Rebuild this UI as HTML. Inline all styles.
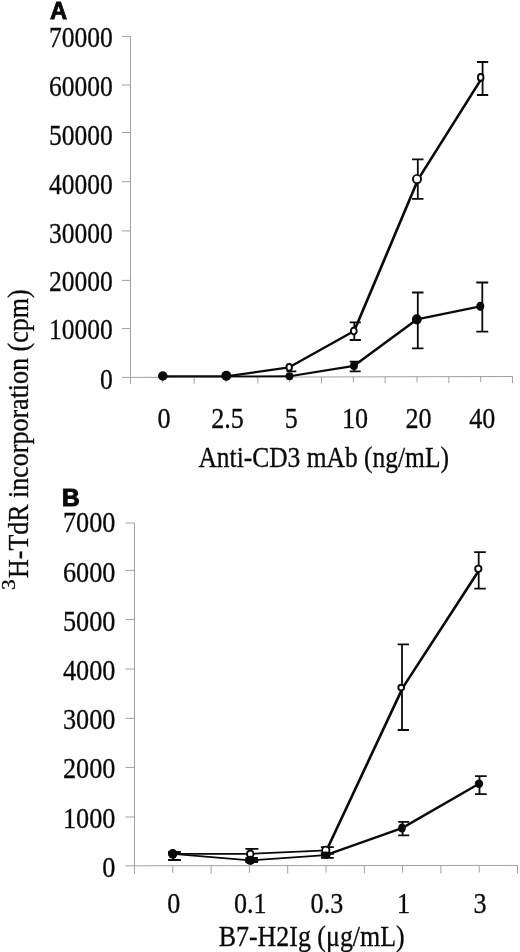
<!DOCTYPE html><html><head><meta charset="utf-8"><title>Figure</title><style>html,body{margin:0;padding:0;background:#fff}svg{display:block;will-change:transform}text{font-family:"Liberation Serif",serif;fill:#0a0a0a;stroke:#0a0a0a;stroke-width:0.3px}.b{font-family:"Liberation Sans",sans-serif;font-weight:bold}</style></head><body>
<svg width="520" height="952" viewBox="0 0 520 952">
<rect width="520" height="952" fill="#fff"/>
<g stroke="#a0a0a0" stroke-width="1" fill="none">
<line x1="130.50" y1="36.40" x2="130.50" y2="383.90"/>
<line x1="122.00" y1="377.40" x2="512.50" y2="376.50"/>
<line x1="122.00" y1="36.40" x2="130.50" y2="36.40"/>
<line x1="122.00" y1="85.00" x2="130.50" y2="85.00"/>
<line x1="122.00" y1="132.50" x2="130.50" y2="132.50"/>
<line x1="122.00" y1="181.70" x2="130.50" y2="181.70"/>
<line x1="122.00" y1="230.90" x2="130.50" y2="230.90"/>
<line x1="122.00" y1="280.40" x2="130.50" y2="280.40"/>
<line x1="122.00" y1="328.50" x2="130.50" y2="328.50"/>
<line x1="162.33" y1="377.32" x2="162.33" y2="382.82"/>
<line x1="194.17" y1="377.25" x2="194.17" y2="383.75"/>
<line x1="226.00" y1="377.17" x2="226.00" y2="382.67"/>
<line x1="257.83" y1="377.10" x2="257.83" y2="383.60"/>
<line x1="289.67" y1="377.02" x2="289.67" y2="382.52"/>
<line x1="321.50" y1="376.95" x2="321.50" y2="383.45"/>
<line x1="353.33" y1="376.88" x2="353.33" y2="382.38"/>
<line x1="385.17" y1="376.80" x2="385.17" y2="383.30"/>
<line x1="417.00" y1="376.73" x2="417.00" y2="382.23"/>
<line x1="448.83" y1="376.65" x2="448.83" y2="383.15"/>
<line x1="480.67" y1="376.57" x2="480.67" y2="382.07"/>
<line x1="512.50" y1="376.50" x2="512.50" y2="383.00"/>
</g>
<text transform="translate(112.80,47.20) scale(0.866,1)" font-size="29.5" text-anchor="end">70000</text>
<text transform="translate(112.80,96.40) scale(0.866,1)" font-size="29.5" text-anchor="end">60000</text>
<text transform="translate(112.80,145.40) scale(0.866,1)" font-size="29.5" text-anchor="end">50000</text>
<text transform="translate(112.80,193.60) scale(0.866,1)" font-size="29.5" text-anchor="end">40000</text>
<text transform="translate(112.80,242.60) scale(0.866,1)" font-size="29.5" text-anchor="end">30000</text>
<text transform="translate(112.80,291.40) scale(0.866,1)" font-size="29.5" text-anchor="end">20000</text>
<text transform="translate(112.80,339.40) scale(0.866,1)" font-size="29.5" text-anchor="end">10000</text>
<text transform="translate(112.80,388.60) scale(0.866,1)" font-size="29.5" text-anchor="end">0</text>
<text transform="translate(163.93,428.00) scale(0.885,1)" font-size="29.5" text-anchor="middle">0</text>
<text transform="translate(227.60,428.00) scale(0.885,1)" font-size="29.5" text-anchor="middle">2.5</text>
<text transform="translate(291.27,428.00) scale(0.885,1)" font-size="29.5" text-anchor="middle">5</text>
<text transform="translate(354.93,428.00) scale(0.885,1)" font-size="29.5" text-anchor="middle">10</text>
<text transform="translate(418.60,428.00) scale(0.885,1)" font-size="29.5" text-anchor="middle">20</text>
<text transform="translate(482.27,428.00) scale(0.885,1)" font-size="29.5" text-anchor="middle">40</text>
<line x1="162.80" y1="376.40" x2="226.30" y2="376.40" stroke="#0a0a0a" stroke-width="1.80" stroke-linecap="round"/>
<line x1="226.30" y1="376.40" x2="289.20" y2="367.30" stroke="#0a0a0a" stroke-width="2.19" stroke-linecap="round"/>
<line x1="289.20" y1="367.30" x2="354.20" y2="331.00" stroke="#0a0a0a" stroke-width="2.39" stroke-linecap="round"/>
<line x1="354.20" y1="331.00" x2="418.30" y2="179.10" stroke="#0a0a0a" stroke-width="2.65" stroke-linecap="round"/>
<line x1="418.30" y1="179.10" x2="482.30" y2="77.40" stroke="#0a0a0a" stroke-width="2.61" stroke-linecap="round"/>
<path d="M289.80 367.00 V371.40" stroke="#0a0a0a" stroke-width="1.80" fill="none"/>
<path d="M286.50 371.40 H296.30" stroke="#0a0a0a" stroke-width="1.80" fill="none"/>
<path d="M354.30 322.30 V340.00" stroke="#0a0a0a" stroke-width="1.80" fill="none"/>
<path d="M349.70 322.30 H360.90 M349.70 340.00 H360.90" stroke="#0a0a0a" stroke-width="1.80" fill="none"/>
<path d="M417.80 159.30 V198.80" stroke="#0a0a0a" stroke-width="1.80" fill="none"/>
<path d="M412.00 159.30 H423.50 M412.00 198.80 H423.50" stroke="#0a0a0a" stroke-width="1.80" fill="none"/>
<path d="M482.60 62.00 V95.00" stroke="#0a0a0a" stroke-width="1.80" fill="none"/>
<path d="M476.90 62.00 H488.20 M476.90 95.00 H488.20" stroke="#0a0a0a" stroke-width="1.80" fill="none"/>
<ellipse cx="162.80" cy="376.50" rx="3.05" ry="3.05" fill="#fff" stroke="#0a0a0a" stroke-width="1.9"/>
<ellipse cx="226.30" cy="376.50" rx="3.05" ry="3.05" fill="#fff" stroke="#0a0a0a" stroke-width="1.9"/>
<ellipse cx="289.20" cy="367.30" rx="2.75" ry="3.45" fill="#fff" stroke="#0a0a0a" stroke-width="1.9"/>
<ellipse cx="353.80" cy="331.00" rx="2.95" ry="3.45" fill="#fff" stroke="#0a0a0a" stroke-width="1.9"/>
<ellipse cx="417.00" cy="179.10" rx="4.05" ry="4.20" fill="#fff" stroke="#0a0a0a" stroke-width="1.9"/>
<ellipse cx="480.70" cy="77.40" rx="2.80" ry="3.35" fill="#fff" stroke="#0a0a0a" stroke-width="1.9"/>
<line x1="162.80" y1="376.40" x2="226.30" y2="376.40" stroke="#0a0a0a" stroke-width="1.80" stroke-linecap="round"/>
<line x1="226.30" y1="376.40" x2="289.50" y2="376.25" stroke="#0a0a0a" stroke-width="1.80" stroke-linecap="round"/>
<line x1="289.50" y1="376.25" x2="354.00" y2="365.80" stroke="#0a0a0a" stroke-width="2.20" stroke-linecap="round"/>
<line x1="354.00" y1="365.80" x2="416.80" y2="319.40" stroke="#0a0a0a" stroke-width="2.46" stroke-linecap="round"/>
<line x1="416.80" y1="319.40" x2="480.30" y2="306.30" stroke="#0a0a0a" stroke-width="2.22" stroke-linecap="round"/>
<path d="M354.30 361.60 V371.30" stroke="#0a0a0a" stroke-width="1.80" fill="none"/>
<path d="M349.70 361.60 H360.70 M349.70 371.30 H360.70" stroke="#0a0a0a" stroke-width="1.80" fill="none"/>
<path d="M417.80 292.50 V348.30" stroke="#0a0a0a" stroke-width="1.80" fill="none"/>
<path d="M412.00 292.50 H423.50 M412.00 348.30 H423.50" stroke="#0a0a0a" stroke-width="1.80" fill="none"/>
<path d="M482.30 282.50 V331.70" stroke="#0a0a0a" stroke-width="1.80" fill="none"/>
<path d="M476.30 282.50 H488.20 M476.30 331.70 H488.20" stroke="#0a0a0a" stroke-width="1.80" fill="none"/>
<ellipse cx="162.80" cy="375.90" rx="4.80" ry="4.55" fill="#0a0a0a"/>
<ellipse cx="226.30" cy="375.70" rx="5.00" ry="5.00" fill="#0a0a0a"/>
<ellipse cx="289.50" cy="376.25" rx="3.90" ry="3.90" fill="#0a0a0a"/>
<ellipse cx="354.00" cy="365.80" rx="3.90" ry="4.20" fill="#0a0a0a"/>
<ellipse cx="416.80" cy="319.40" rx="4.90" ry="5.05" fill="#0a0a0a"/>
<ellipse cx="480.30" cy="306.30" rx="4.00" ry="4.60" fill="#0a0a0a"/>
<text transform="translate(198.40,466.80) scale(1.000,1)" font-size="29.0" text-anchor="start" textLength="250.6" lengthAdjust="spacingAndGlyphs">Anti-CD3 mAb (ng/mL)</text>
<text class="b" transform="translate(49.9,19.3) scale(1.0,1)" font-size="23.8" style="stroke-width:0.8px">A</text>
<g stroke="#a0a0a0" stroke-width="1" fill="none">
<line x1="134.50" y1="523.00" x2="134.50" y2="873.80"/>
<line x1="125.50" y1="865.80" x2="517.50" y2="865.40"/>
<line x1="125.50" y1="523.00" x2="134.50" y2="523.00"/>
<line x1="125.50" y1="570.40" x2="134.50" y2="570.40"/>
<line x1="125.50" y1="619.40" x2="134.50" y2="619.40"/>
<line x1="125.50" y1="669.00" x2="134.50" y2="669.00"/>
<line x1="125.50" y1="718.30" x2="134.50" y2="718.30"/>
<line x1="125.50" y1="767.40" x2="134.50" y2="767.40"/>
<line x1="125.50" y1="817.00" x2="134.50" y2="817.00"/>
<line x1="172.80" y1="865.76" x2="172.80" y2="872.76"/>
<line x1="211.10" y1="865.72" x2="211.10" y2="873.72"/>
<line x1="249.40" y1="865.68" x2="249.40" y2="872.68"/>
<line x1="287.70" y1="865.64" x2="287.70" y2="873.64"/>
<line x1="326.00" y1="865.60" x2="326.00" y2="872.60"/>
<line x1="364.30" y1="865.56" x2="364.30" y2="873.56"/>
<line x1="402.60" y1="865.52" x2="402.60" y2="872.52"/>
<line x1="440.90" y1="865.48" x2="440.90" y2="873.48"/>
<line x1="479.20" y1="865.44" x2="479.20" y2="872.44"/>
<line x1="517.50" y1="865.40" x2="517.50" y2="873.40"/>
</g>
<text transform="translate(115.40,532.20) scale(0.890,1)" font-size="29.5" text-anchor="end">7000</text>
<text transform="translate(115.40,581.60) scale(0.890,1)" font-size="29.5" text-anchor="end">6000</text>
<text transform="translate(115.40,630.90) scale(0.890,1)" font-size="29.5" text-anchor="end">5000</text>
<text transform="translate(115.40,680.20) scale(0.890,1)" font-size="29.5" text-anchor="end">4000</text>
<text transform="translate(115.40,728.80) scale(0.890,1)" font-size="29.5" text-anchor="end">3000</text>
<text transform="translate(115.40,778.00) scale(0.890,1)" font-size="29.5" text-anchor="end">2000</text>
<text transform="translate(115.40,827.50) scale(0.890,1)" font-size="29.5" text-anchor="end">1000</text>
<text transform="translate(115.40,876.60) scale(0.890,1)" font-size="29.5" text-anchor="end">0</text>
<text transform="translate(173.70,913.00) scale(0.885,1)" font-size="29.5" text-anchor="middle">0</text>
<text transform="translate(250.30,913.00) scale(0.885,1)" font-size="29.5" text-anchor="middle">0.1</text>
<text transform="translate(326.90,913.00) scale(0.885,1)" font-size="29.5" text-anchor="middle">0.3</text>
<text transform="translate(403.50,913.00) scale(0.885,1)" font-size="29.5" text-anchor="middle">1</text>
<text transform="translate(480.10,913.00) scale(0.885,1)" font-size="29.5" text-anchor="middle">3</text>
<line x1="172.70" y1="853.80" x2="250.20" y2="853.90" stroke="#0a0a0a" stroke-width="1.80" stroke-linecap="round"/>
<line x1="250.20" y1="853.90" x2="326.60" y2="850.30" stroke="#0a0a0a" stroke-width="1.80" stroke-linecap="round"/>
<line x1="326.60" y1="850.30" x2="402.80" y2="687.60" stroke="#0a0a0a" stroke-width="2.64" stroke-linecap="round"/>
<line x1="402.80" y1="687.60" x2="480.00" y2="568.80" stroke="#0a0a0a" stroke-width="2.60" stroke-linecap="round"/>
<path d="M173.30 852.00 V860.00" stroke="#0a0a0a" stroke-width="1.80" fill="none"/>
<path d="M168.30 852.00 H180.60 M168.30 860.00 H180.60" stroke="#0a0a0a" stroke-width="1.80" fill="none"/>
<path d="M251.60 848.90 V860.80" stroke="#0a0a0a" stroke-width="1.80" fill="none"/>
<path d="M245.40 848.90 H258.40 M245.40 860.80 H258.40" stroke="#0a0a0a" stroke-width="1.80" fill="none"/>
<path d="M326.50 847.10 V853.50" stroke="#0a0a0a" stroke-width="1.80" fill="none"/>
<path d="M320.90 847.10 H333.80 M320.90 853.50 H333.80" stroke="#0a0a0a" stroke-width="1.80" fill="none"/>
<path d="M402.00 644.40 V730.00" stroke="#0a0a0a" stroke-width="1.80" fill="none"/>
<path d="M397.70 644.40 H409.00 M397.70 730.00 H409.00" stroke="#0a0a0a" stroke-width="1.80" fill="none"/>
<path d="M478.70 552.20 V588.70" stroke="#0a0a0a" stroke-width="1.80" fill="none"/>
<path d="M474.20 552.20 H485.80 M474.20 588.70 H485.80" stroke="#0a0a0a" stroke-width="1.80" fill="none"/>
<ellipse cx="172.70" cy="853.80" rx="3.45" ry="3.45" fill="#fff" stroke="#0a0a0a" stroke-width="1.9"/>
<ellipse cx="250.20" cy="853.90" rx="3.35" ry="3.45" fill="#fff" stroke="#0a0a0a" stroke-width="1.9"/>
<ellipse cx="325.80" cy="850.30" rx="3.65" ry="3.65" fill="#fff" stroke="#0a0a0a" stroke-width="1.9"/>
<ellipse cx="401.20" cy="687.60" rx="2.90" ry="2.85" fill="#fff" stroke="#0a0a0a" stroke-width="1.9"/>
<ellipse cx="478.30" cy="568.80" rx="3.15" ry="3.15" fill="#fff" stroke="#0a0a0a" stroke-width="1.9"/>
<line x1="172.70" y1="853.80" x2="250.30" y2="860.30" stroke="#0a0a0a" stroke-width="1.80" stroke-linecap="round"/>
<line x1="250.30" y1="860.30" x2="325.80" y2="855.20" stroke="#0a0a0a" stroke-width="1.80" stroke-linecap="round"/>
<line x1="325.80" y1="855.20" x2="402.00" y2="828.10" stroke="#0a0a0a" stroke-width="2.30" stroke-linecap="round"/>
<line x1="402.00" y1="828.10" x2="479.00" y2="783.80" stroke="#0a0a0a" stroke-width="2.40" stroke-linecap="round"/>
<path d="M173.30 852.00 V860.00" stroke="#0a0a0a" stroke-width="1.80" fill="none"/>
<path d="M168.30 852.00 H180.60 M168.30 860.00 H180.60" stroke="#0a0a0a" stroke-width="1.80" fill="none"/>
<path d="M251.60 858.00 V862.00" stroke="#0a0a0a" stroke-width="1.80" fill="none"/>
<path d="M245.40 858.00 H257.90 M245.40 862.00 H257.90" stroke="#0a0a0a" stroke-width="1.80" fill="none"/>
<path d="M326.50 853.50 V857.90" stroke="#0a0a0a" stroke-width="1.80" fill="none"/>
<path d="M320.90 853.50 H333.80 M320.90 857.90 H333.80" stroke="#0a0a0a" stroke-width="1.80" fill="none"/>
<path d="M402.60 821.90 V835.40" stroke="#0a0a0a" stroke-width="1.80" fill="none"/>
<path d="M398.20 821.90 H409.20 M398.20 835.40 H409.20" stroke="#0a0a0a" stroke-width="1.80" fill="none"/>
<path d="M479.50 776.20 V794.10" stroke="#0a0a0a" stroke-width="1.80" fill="none"/>
<path d="M475.00 776.20 H486.70 M475.00 794.10 H486.70" stroke="#0a0a0a" stroke-width="1.80" fill="none"/>
<ellipse cx="172.70" cy="853.80" rx="4.70" ry="4.80" fill="#0a0a0a"/>
<ellipse cx="250.30" cy="860.30" rx="5.00" ry="4.60" fill="#0a0a0a"/>
<ellipse cx="325.80" cy="855.20" rx="4.80" ry="3.60" fill="#0a0a0a"/>
<ellipse cx="402.00" cy="828.10" rx="3.90" ry="4.60" fill="#0a0a0a"/>
<ellipse cx="479.00" cy="783.80" rx="4.20" ry="4.20" fill="#0a0a0a"/>
<text transform="translate(218.70,945.70) scale(1.000,1)" font-size="29.5" text-anchor="start" textLength="186" lengthAdjust="spacingAndGlyphs">B7-H2Ig (μg/mL)</text>
<text class="b" transform="translate(61.9,506.25) scale(1.03,1)" font-size="23.7" style="stroke-width:1px">B</text>
<g transform="translate(28.4,590) rotate(-90)"><text font-size="19" x="0" y="-13.6" textLength="10.6" lengthAdjust="spacingAndGlyphs">3</text><text font-size="29" x="12.0" y="0" textLength="288.6" lengthAdjust="spacingAndGlyphs">H-TdR incorporation (cpm)</text></g>
</svg></body></html>
